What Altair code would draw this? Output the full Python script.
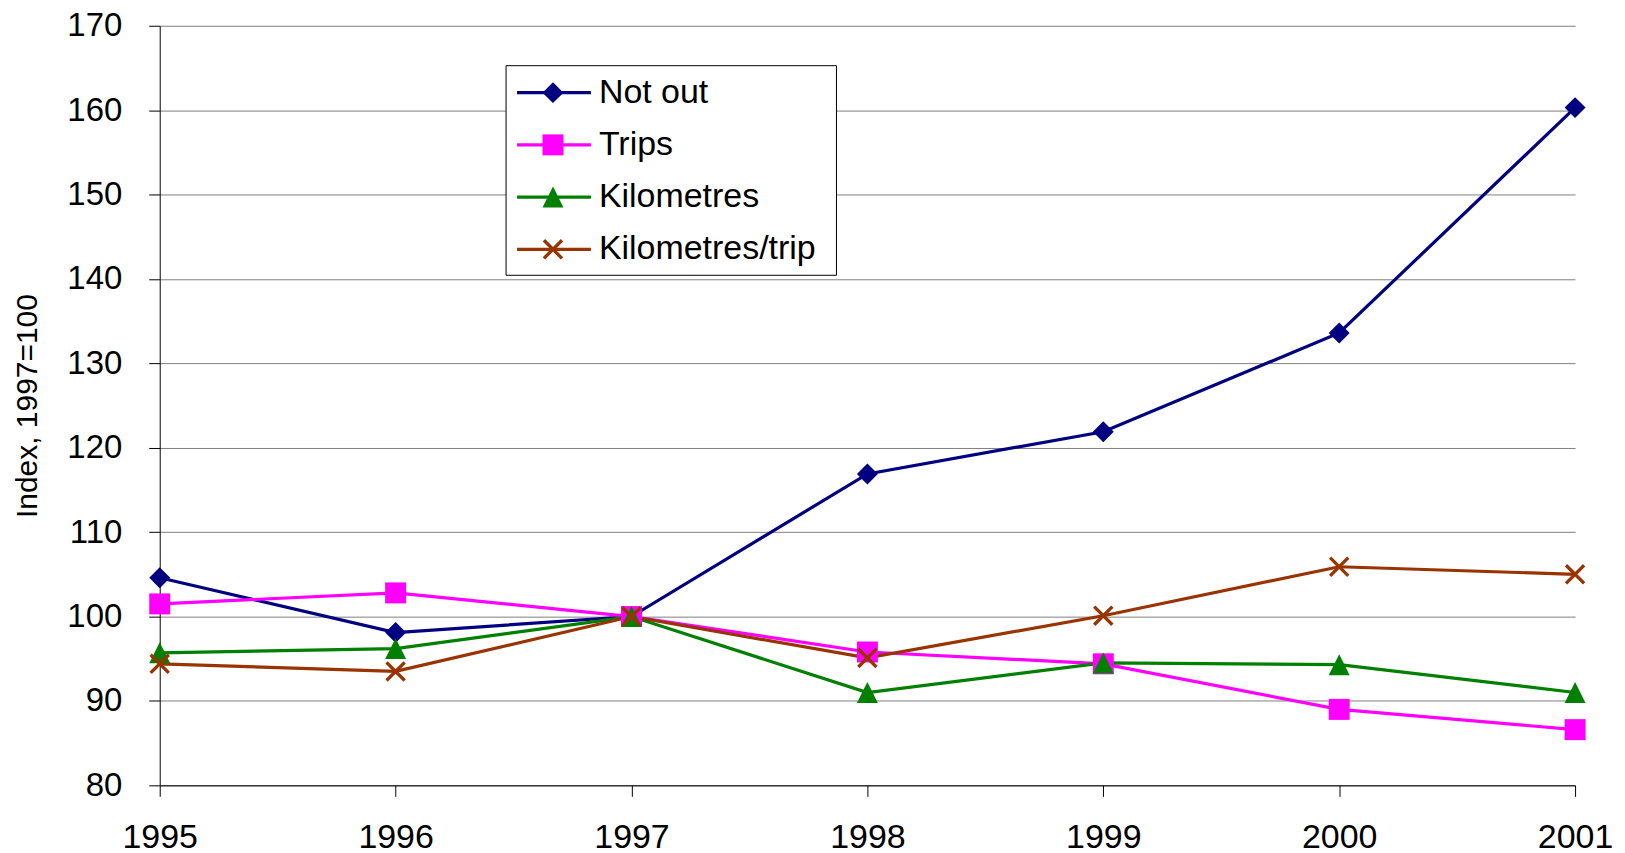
import altair as alt
import pandas as pd

# ---- data ----
years = [1995, 1996, 1997, 1998, 1999, 2000, 2001]
not_out = [104.6, 98.1, 100.0, 116.9, 121.9, 133.6, 160.3]
trips = [101.5, 102.8, 100.0, 95.8, 94.4, 89.0, 86.6]
kilometres = [95.7, 96.2, 100.0, 91.0, 94.5, 94.3, 91.0]
km_per_trip = [94.4, 93.5, 100.0, 95.1, 100.1, 105.9, 105.0]

series_names = ["Not out", "Trips", "Kilometres", "Kilometres/trip"]
y_ticks = [80, 90, 100, 110, 120, 130, 140, 150, 160, 170]
y_title = "Index, 1997=100"

colors = ["#000080", "#FF00FF", "#008000", "#993300"]
shapes = ["diamond", "square", "M0,-1L1,1L-1,1Z", "M-1,-1L1,1M1,-1L-1,1"]
FONT = "Liberation Sans, Arial, Helvetica, sans-serif"

rows = []
for name, vals in zip(series_names, [not_out, trips, kilometres, km_per_trip]):
    for yr, v in zip(years, vals):
        rows.append({"year": yr, "value": v, "series": name})
df = pd.DataFrame(rows)
legend_df = pd.DataFrame({"series": series_names})

color_scale = alt.Scale(domain=series_names, range=colors)
shape_scale = alt.Scale(domain=series_names, range=shapes)
x_enc = alt.X("year:Q", scale=alt.Scale(domain=[1995, 2001], nice=False, zero=False),
              axis=alt.Axis(values=years, format="d", grid=False, title=None,
                            tickSize=11, labelPadding=24, labelFontSize=34,
                            labelFont=FONT, labelColor="black", domainColor="black",
                            tickColor="black", labelFlush=False, labelBaseline="top"))
y_scale = alt.Scale(domain=[80, 170], nice=False, zero=False)

MARK = 441
XMARK = 330

base = alt.Chart(df)
lines = base.mark_line(strokeWidth=3.2).encode(
    x=x_enc,
    y=alt.Y("value:Q", scale=y_scale,
            axis=alt.Axis(values=y_ticks, title=y_title, grid=True, gridColor="#808080",
                          gridWidth=1, tickSize=11, labelPadding=27, labelFontSize=33,
                          labelFont=FONT, labelColor="black", domainColor="black",
                          tickColor="black", titleFont=FONT, titleFontSize=30,
                          titleFontWeight="normal", titleColor="black", titlePadding=24)),
    color=alt.Color("series:N", scale=color_scale, legend=None),
    detail="series:N",
    order=alt.Order("year:Q"),
)
pts_filled = base.transform_filter(
    alt.datum.series != "Kilometres/trip"
).mark_point(filled=True, opacity=1, size=MARK).encode(
    x="year:Q",
    y=alt.Y("value:Q", scale=y_scale),
    color=alt.Color("series:N", scale=color_scale, legend=None),
    shape=alt.Shape("series:N", scale=shape_scale, legend=None),
)
pts_x = base.transform_filter(
    alt.datum.series == "Kilometres/trip"
).mark_point(filled=False, opacity=1, size=XMARK, strokeWidth=3.3).encode(
    x="year:Q",
    y=alt.Y("value:Q", scale=y_scale),
    color=alt.Color("series:N", scale=color_scale, legend=None),
    shape=alt.Shape("series:N", scale=shape_scale, legend=None),
)

main = alt.layer(lines, pts_filled, pts_x)

# ---- custom legend (line + marker samples) ----
leg_y = alt.Scale(type="point", domain=series_names, range=[67, 224], padding=0)
lbase = alt.Chart(legend_df)
box = lbase.mark_rect(fill="white", stroke="black", strokeWidth=1).encode(
    x=alt.value(347), x2=alt.value(678), y=alt.value(40), y2=alt.value(250)
).transform_filter(alt.datum.series == "Not out")
leg_lines = lbase.mark_rule(strokeWidth=3.2).encode(
    x=alt.value(358), x2=alt.value(432),
    y=alt.Y("series:N", scale=leg_y, axis=None),
    color=alt.Color("series:N", scale=color_scale, legend=None),
)
leg_pts = lbase.transform_filter(alt.datum.series != "Kilometres/trip").mark_point(
    filled=True, opacity=1, size=MARK).encode(
    x=alt.value(394),
    y=alt.Y("series:N", scale=leg_y, axis=None),
    color=alt.Color("series:N", scale=color_scale, legend=None),
    shape=alt.Shape("series:N", scale=shape_scale, legend=None),
)
leg_x = lbase.transform_filter(alt.datum.series == "Kilometres/trip").mark_point(
    filled=False, opacity=1, size=XMARK, strokeWidth=3.3).encode(
    x=alt.value(394),
    y=alt.Y("series:N", scale=leg_y, axis=None),
    color=alt.Color("series:N", scale=color_scale, legend=None),
    shape=alt.Shape("series:N", scale=shape_scale, legend=None),
)
leg_text = lbase.mark_text(align="left", baseline="middle", fontSize=34, font=FONT,
                           color="black").encode(
    x=alt.value(440),
    y=alt.Y("series:N", scale=leg_y, axis=None),
    text="series:N",
)
legend = alt.layer(box, leg_lines, leg_pts, leg_x, leg_text)

chart = alt.layer(main, legend).resolve_scale(
    y="independent", color="shared", shape="shared"
).properties(
    width=1418, height=761,
    autosize=alt.AutoSizeParams(type="none"),
    padding={"left": 152, "top": 17, "right": 42, "bottom": 70},
    background="white",
).configure_view(strokeWidth=0)

chart.save("out.html", embed_options={"renderer": "svg", "actions": False})
